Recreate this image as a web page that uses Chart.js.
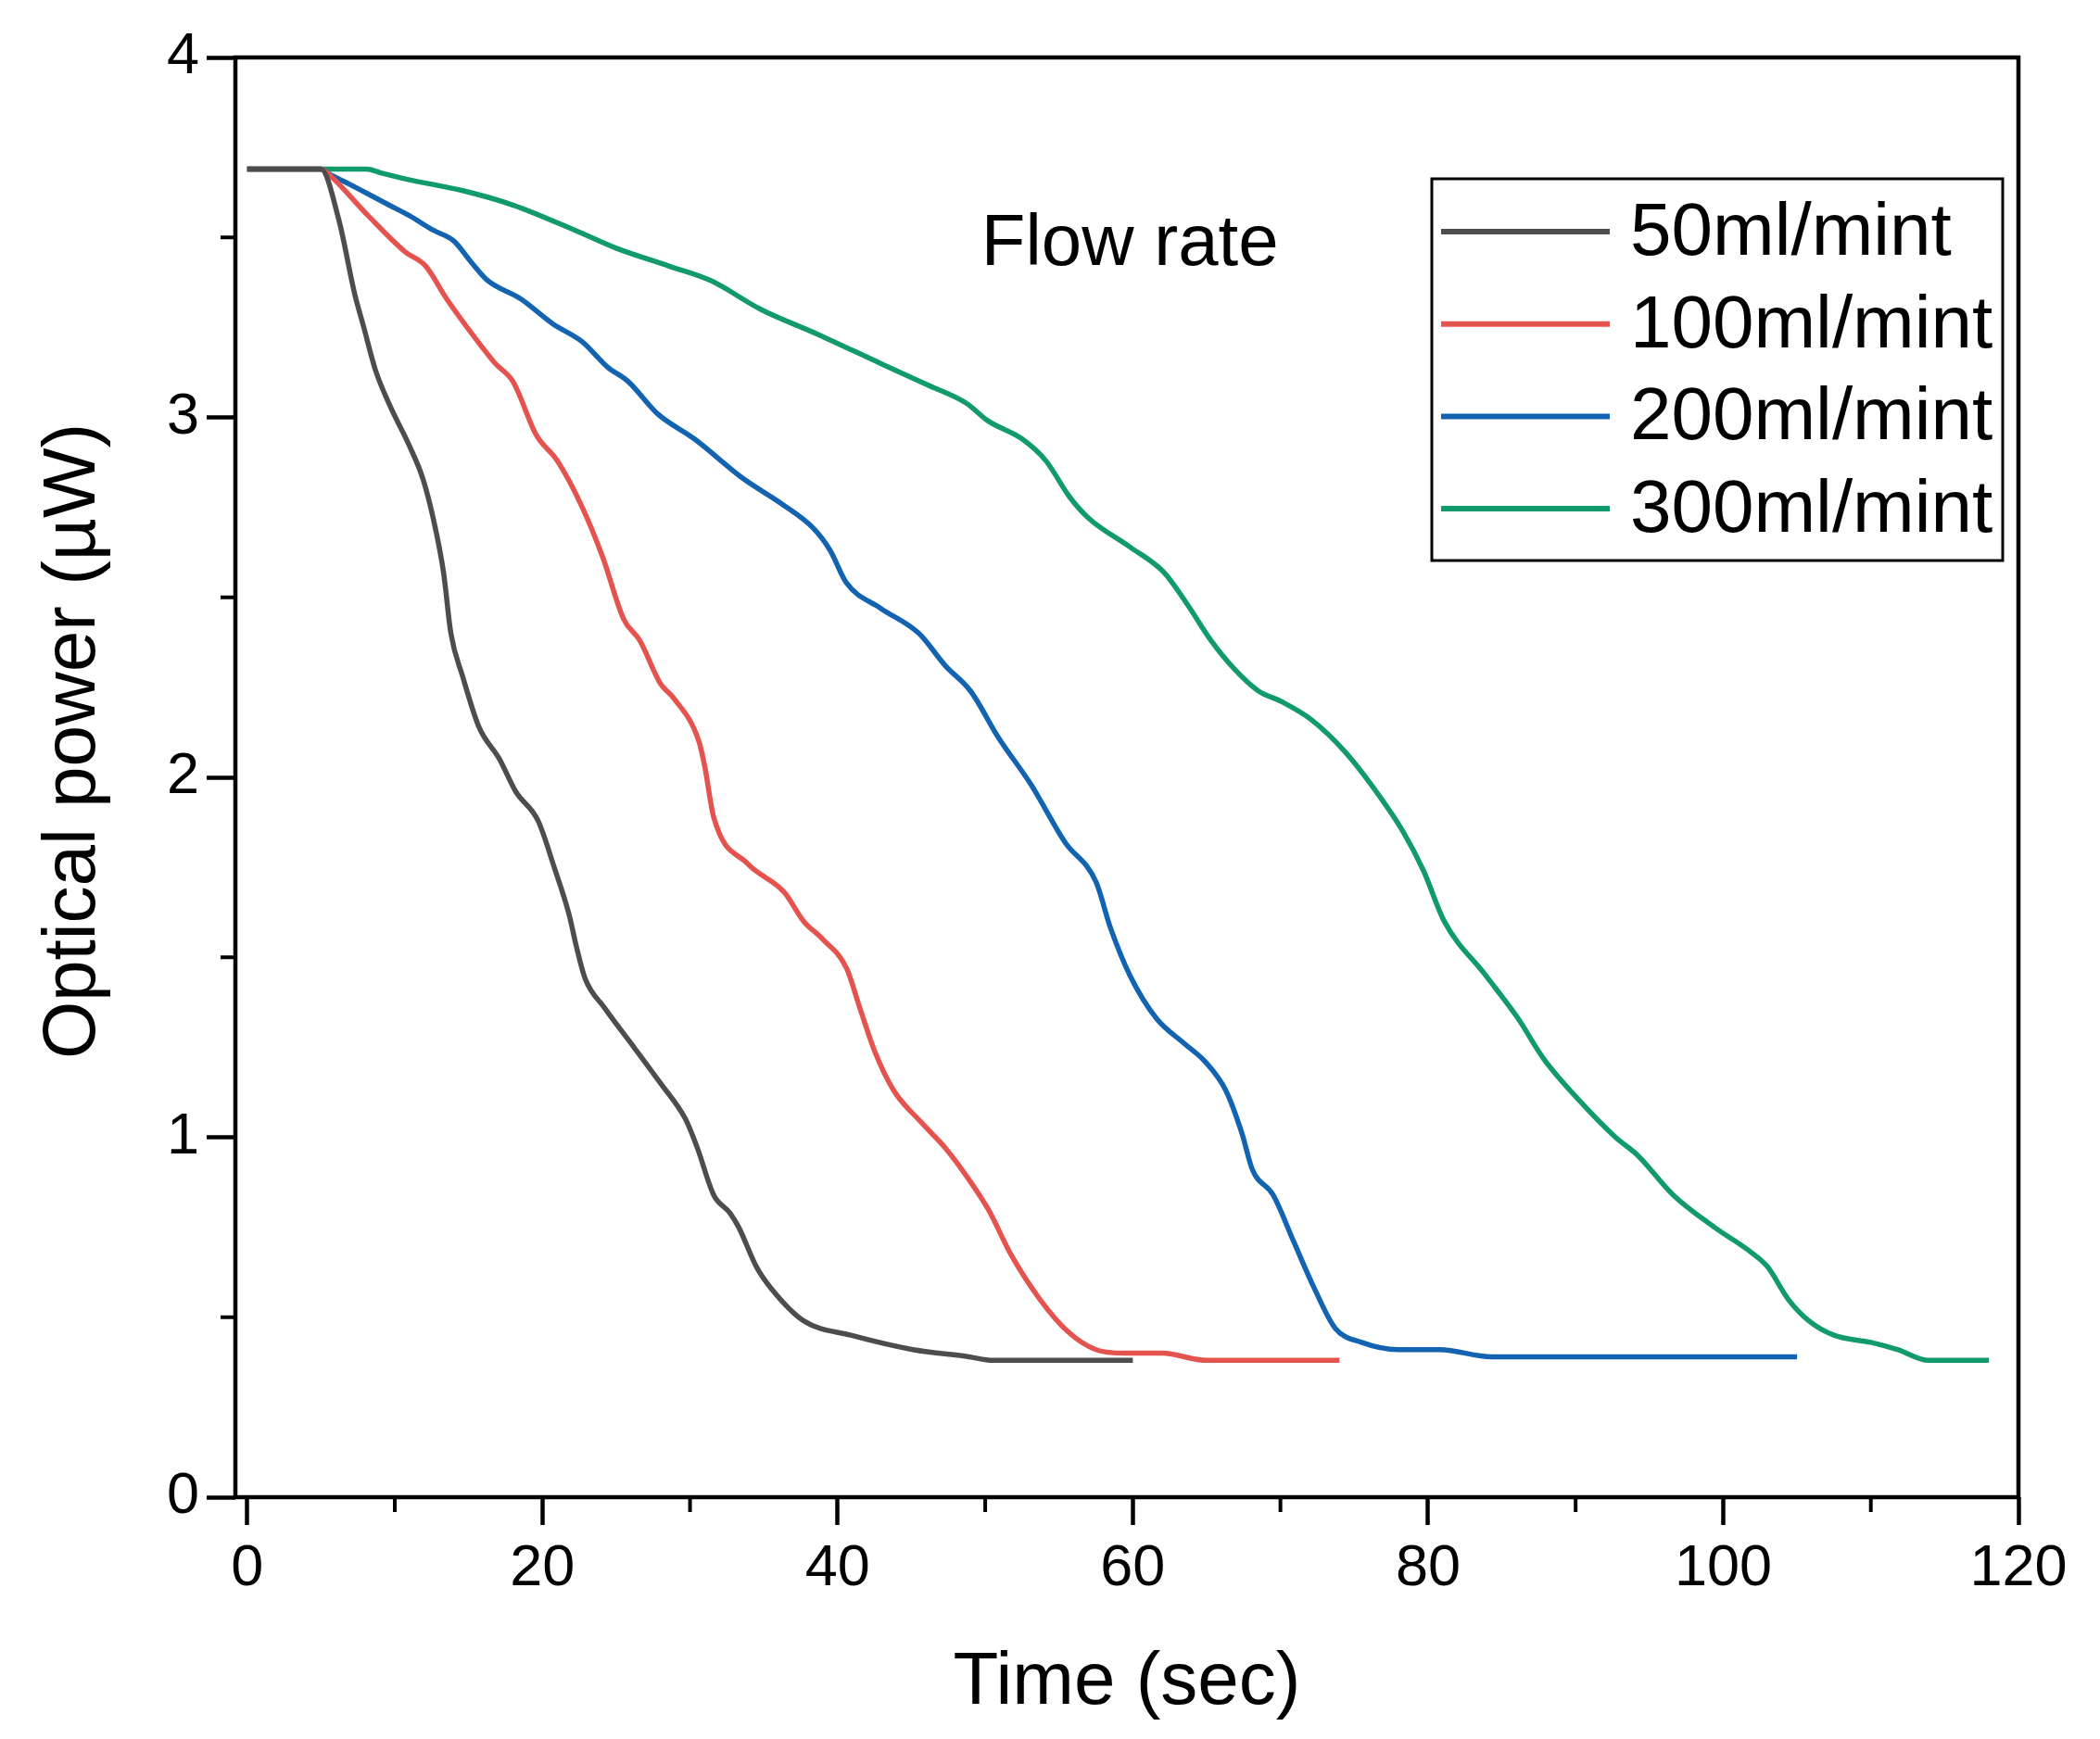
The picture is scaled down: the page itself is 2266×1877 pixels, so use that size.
<!DOCTYPE html>
<html>
<head>
<meta charset="utf-8">
<script src="https://cdn.jsdelivr.net/npm/chart.js@4.4.1/dist/chart.umd.min.js"></script>
<style>
  html, body { margin: 0; padding: 0; background: #fff; }
  canvas { display: block; }
</style>
</head>
<body>
<canvas id="myChart" width="2266" height="1877" style="width:2266px;height:1877px"></canvas>
<script>
// --- data ---
const labels = ['50ml/mint', '100ml/mint', '200ml/mint', '300ml/mint'];
const colors = ['#4d4d4d', '#e5534f', '#1264b2', '#119a6a'];

const time50 = [0, 5, 6.2, 7.3, 7.9, 8.7, 9.7, 11.0, 11.9, 12.6, 13.3, 13.8, 14.6, 15.7, 17.1, 18.2, 19.7, 20.8, 21.8, 22.3, 22.9, 24.2, 26.2, 28.0, 29.7, 30.5, 31.6, 32.7, 33.3, 34.5, 35.5, 37.7, 40.9, 45.1, 48.9, 50.5, 60];
const power50 = [3.69, 3.69, 3.55, 3.34, 3.25, 3.13, 3.03, 2.92, 2.83, 2.72, 2.57, 2.40, 2.28, 2.14, 2.05, 1.96, 1.88, 1.75, 1.62, 1.53, 1.44, 1.36, 1.25, 1.15, 1.05, 0.97, 0.84, 0.79, 0.75, 0.64, 0.58, 0.49, 0.45, 0.41, 0.39, 0.38, 0.38];

const time100 = [0, 5, 5.4, 8.2, 10.7, 12.1, 13.5, 14.9, 16.8, 18.0, 19.6, 21.0, 22.7, 24.1, 25.5, 26.6, 28.0, 28.9, 30.6, 31.0, 31.6, 33.9, 36.4, 37.7, 39.0, 40.6, 41.5, 42.5, 43.8, 45.7, 47.3, 48.6, 50.2, 51.8, 53.7, 55.6, 57.5, 59.5, 62, 65, 74];
const power100 = [3.69, 3.69, 3.68, 3.56, 3.46, 3.42, 3.33, 3.25, 3.15, 3.10, 2.95, 2.88, 2.75, 2.61, 2.44, 2.38, 2.26, 2.22, 2.10, 2.03, 1.89, 1.76, 1.68, 1.60, 1.55, 1.47, 1.36, 1.24, 1.13, 1.04, 0.97, 0.90, 0.80, 0.67, 0.55, 0.46, 0.41, 0.40, 0.40, 0.38, 0.38];

const time200 = [0, 5, 5.4, 7.3, 9.6, 11.0, 12.6, 14.0, 15.2, 16.3, 18.5, 20.7, 22.7, 24.4, 25.8, 27.8, 30.3, 33.6, 36.2, 38.4, 39.5, 40.6, 42.9, 45.5, 47.3, 49.0, 50.9, 53.1, 55.4, 57.5, 58.5, 59.8, 61.6, 63.5, 64.9, 66.3, 67.4, 68.1, 69.5, 70.9, 72.3, 73.7, 75.5, 78.0, 80.8, 84.3, 105];
const power200 = [3.69, 3.69, 3.68, 3.64, 3.59, 3.56, 3.52, 3.49, 3.43, 3.38, 3.33, 3.26, 3.21, 3.14, 3.10, 3.01, 2.94, 2.83, 2.76, 2.69, 2.63, 2.54, 2.47, 2.40, 2.31, 2.24, 2.11, 1.98, 1.82, 1.71, 1.58, 1.45, 1.33, 1.26, 1.21, 1.13, 1.01, 0.91, 0.84, 0.71, 0.58, 0.47, 0.43, 0.41, 0.41, 0.39, 0.39];

const time300 = [0, 5, 8.1, 9.0, 11.0, 14.6, 18.0, 22.2, 25.0, 28.6, 31.4, 34.8, 38.7, 42.9, 46.1, 48.7, 50.2, 52.5, 54.1, 55.7, 57.0, 59.8, 62.1, 63.7, 65.3, 66.9, 68.5, 70.1, 72.1, 74.4, 76.5, 78.3, 79.7, 81.1, 83.9, 86.1, 87.8, 90.3, 92.7, 94.2, 96.6, 99.4, 101.9, 103.0, 104.4, 105.8, 107.5, 110.0, 111.8, 113.9, 118];
const power300 = [3.69, 3.69, 3.69, 3.68, 3.66, 3.63, 3.59, 3.52, 3.47, 3.42, 3.38, 3.30, 3.23, 3.15, 3.09, 3.04, 2.99, 2.94, 2.88, 2.78, 2.72, 2.64, 2.57, 2.48, 2.38, 2.30, 2.24, 2.21, 2.16, 2.07, 1.96, 1.85, 1.74, 1.60, 1.45, 1.33, 1.22, 1.10, 1.00, 0.95, 0.84, 0.75, 0.68, 0.64, 0.55, 0.49, 0.45, 0.43, 0.41, 0.38, 0.38];

const xTicks = [0, 20, 40, 60, 80, 100, 120];
const xMinorTicks = [10, 30, 50, 70, 90, 110];
const yTicks = [0, 1, 2, 3, 4];
const yMinorTicks = [0.5, 1.5, 2.5, 3.5];

const noteText = 'Flow rate';
const yTitle = 'Optical power (µW)';

function pts(xs, ys) {
    return xs.map((x, i) => ({ x: x, y: ys[i] }));
}

const allTimes = [time50, time100, time200, time300];
const allPowers = [power50, power100, power200, power300];

const textFont = "'Liberation Sans', Arial, sans-serif";
const tickFont = { family: textFont, size: 63 };

// frame, minor ticks, y title, annotation and legend box
const extras = {
    id: 'extras',
    afterDraw(chart) {
        const c = chart.ctx;
        const a = chart.chartArea;
        const xs = chart.scales.x, ys = chart.scales.y;
        c.save();
        c.strokeStyle = '#000';
        c.lineWidth = 4.5;
        c.strokeRect(a.left, a.top, a.right - a.left, a.bottom - a.top);

        c.lineWidth = 4;
        xMinorTicks.forEach(v => {
            const p = xs.getPixelForValue(v);
            c.beginPath(); c.moveTo(p, a.bottom); c.lineTo(p, a.bottom + 16); c.stroke();
        });
        yMinorTicks.forEach(v => {
            const p = ys.getPixelForValue(v);
            c.beginPath(); c.moveTo(a.left, p); c.lineTo(a.left - 16, p); c.stroke();
        });

        // y axis title
        c.fillStyle = '#000';
        c.font = '80px ' + textFont;
        c.textAlign = 'center';
        c.textBaseline = 'middle';
        c.save();
        c.translate(80, 800);
        c.rotate(-Math.PI / 2);
        c.fillText(yTitle, 0, 0);
        c.restore();

        // annotation
        c.font = '78px ' + textFont;
        c.textBaseline = 'alphabetic';
        c.fillText(noteText, xs.getPixelForValue(59.8), ys.getPixelForValue(3.48) + 22);

        // legend
        const bx = 1545, by = 193, bw = 616, bh = 412;
        c.lineWidth = 3;
        c.strokeRect(bx, by, bw, bh);
        c.font = '80px ' + textFont;
        c.textAlign = 'left';
        c.textBaseline = 'middle';
        chart.data.datasets.forEach((ds, i) => {
            const yy = 250 + i * 99.7;
            c.strokeStyle = ds.borderColor;
            c.lineWidth = 6;
            c.beginPath(); c.moveTo(1555, yy); c.lineTo(1737, yy); c.stroke();
            c.fillStyle = '#000';
            c.fillText(ds.label, 1759, yy + 3);
        });
        c.restore();
    }
};

const ctx = document.getElementById('myChart').getContext('2d');

const graphData = {
    type: 'line',
    data: {
        datasets: labels.map((lab, i) => ({
            label: lab,
            data: pts(allTimes[i], allPowers[i]),
            borderColor: colors[i],
            borderWidth: 5.5,
            pointRadius: 0,
            fill: false,
            cubicInterpolationMode: 'monotone'
        }))
    },
    options: {
        responsive: false,
        animation: false,
        devicePixelRatio: 1,
        layout: { padding: { top: 62, right: 88, left: 0, bottom: 0 } },
        plugins: {
            legend: { display: false },
            tooltip: { enabled: false }
        },
        scales: {
            x: {
                type: 'linear',
                min: -0.8,
                max: 120,
                afterBuildTicks: s => { s.ticks = xTicks.map(v => ({ value: v })); },
                afterFit: s => { s.height = 261; },
                grid: { drawOnChartArea: false, drawTicks: true, tickLength: 30, tickWidth: 4.5, tickColor: '#000' },
                border: { display: false },
                ticks: { color: '#000', font: tickFont, padding: 10, maxRotation: 0 },
                title: { display: true, text: 'Time (sec)', color: '#000', font: { family: textFont, size: 80 }, padding: { top: 0, bottom: 12 } }
            },
            y: {
                min: 0,
                max: 4,
                afterBuildTicks: s => { s.ticks = yTicks.map(v => ({ value: v })); },
                afterFit: s => { s.width = 254; },
                grid: { drawOnChartArea: false, drawTicks: true, tickLength: 31, tickWidth: 4.5, tickColor: '#000' },
                border: { display: false },
                ticks: { color: '#000', font: tickFont, padding: 8 },
                title: { display: false }
            }
        }
    },
    plugins: [extras]
};

const myChart = new Chart(ctx, graphData);
</script>
</body>
</html>
